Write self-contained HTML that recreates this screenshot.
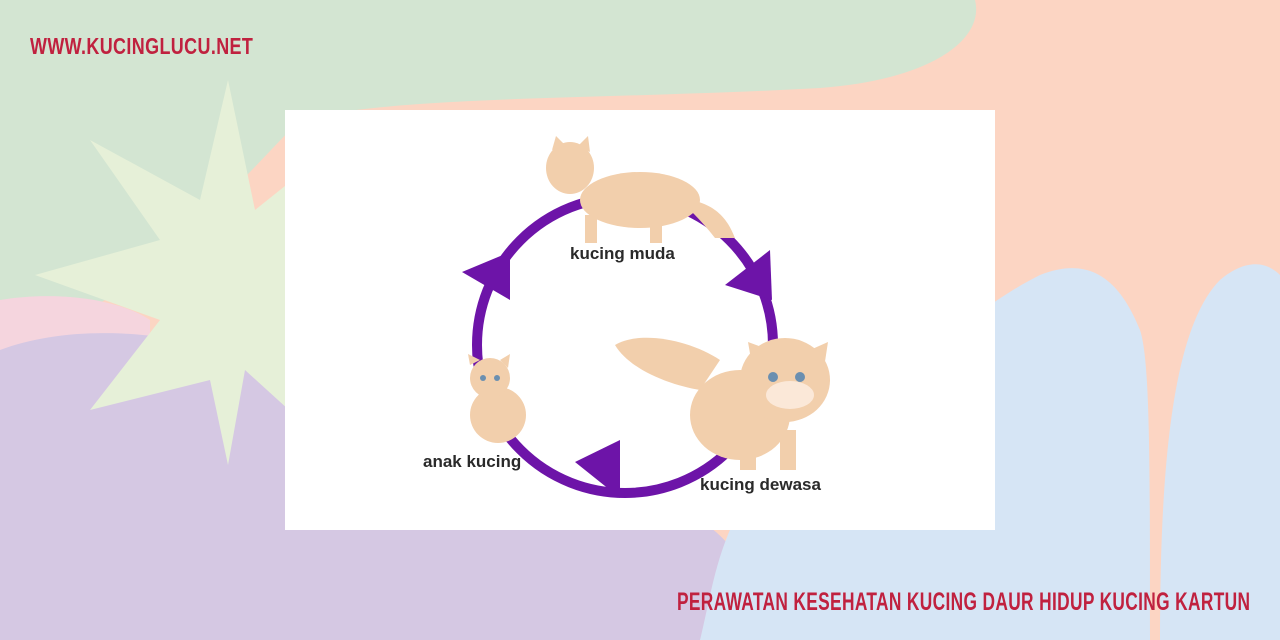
<!DOCTYPE html>
<html><head><meta charset="utf-8"><style>
html,body{margin:0;padding:0}
body{width:1280px;height:640px;overflow:hidden;position:relative;background:#fcd5c3;font-family:"Liberation Sans",sans-serif}
svg{position:absolute;left:0;top:0}
.t{position:absolute;font-family:"Liberation Sans",sans-serif;font-weight:bold;color:#c0213f;transform-origin:left top;letter-spacing:0.5px;white-space:nowrap}
</style></head><body>
<svg width="1280" height="640" viewBox="0 0 1280 640">
<rect width="1280" height="640" fill="#fcd5c3"/>
<path d="M0 0 H975 C985 40 930 80 820 88 C600 100 400 95 300 120 C260 160 200 230 120 290 C60 330 20 350 0 360 Z" fill="#d3e5d2"/>
<path d="M0 300 C60 290 120 300 150 320 L150 640 L0 640 Z" fill="#f5d5de"/>
<path d="M0 350 C80 320 200 330 300 380 C450 450 600 470 700 520 C760 560 760 610 720 640 L0 640 Z" fill="#d5c8e3"/>
<path d="M700 640 C720 560 720 470 880 380 C960 330 990 300 1040 275 C1090 255 1120 280 1140 330 C1150 360 1150 460 1150 640 Z" fill="#d6e5f5"/>
<path d="M1160 640 C1160 480 1170 330 1220 280 C1250 255 1270 265 1280 275 L1280 640 Z" fill="#d6e5f5"/>
<path d="M228 80 L255 210 L330 150 L290 250 L420 275 L290 330 L300 420 L245 370 L228 465 L210 380 L90 410 L160 320 L35 275 L160 240 L90 140 L200 200 Z" fill="#e6f0d8"/>
<rect x="285" y="110" width="710" height="420" fill="#ffffff"/>
<circle cx="625" cy="345" r="148" fill="none" stroke="#6d14a8" stroke-width="10"/>
<polygon points="462,272 510,252 510,300" fill="#6d14a8"/>
<polygon points="725,285 770,250 772,300" fill="#6d14a8"/>
<polygon points="575,462 620,440 620,498" fill="#6d14a8"/>
<ellipse cx="640" cy="200" rx="60" ry="28" fill="#f2cfac"/>
<ellipse cx="570" cy="168" rx="24" ry="26" fill="#f2cfac"/>
<polygon points="552,150 556,136 566,146" fill="#f2cfac"/>
<polygon points="578,146 588,136 590,152" fill="#f2cfac"/>
<path d="M690 200 C720 205 730 225 735 238 L715 238 C705 225 695 215 690 210Z" fill="#f2cfac"/>
<rect x="585" y="215" width="12" height="28" fill="#f2cfac"/>
<rect x="650" y="215" width="12" height="28" fill="#f2cfac"/>
<path d="M615 345 C640 330 690 340 720 360 L700 390 C670 385 630 370 615 345Z" fill="#f2cfac"/>
<ellipse cx="740" cy="415" rx="50" ry="45" fill="#f2cfac"/>
<ellipse cx="785" cy="380" rx="45" ry="42" fill="#f2cfac"/>
<polygon points="748,342 752,365 770,350" fill="#f2cfac"/>
<polygon points="810,350 828,342 824,368" fill="#f2cfac"/>
<ellipse cx="790" cy="395" rx="24" ry="14" fill="#fbe8d8"/>
<circle cx="773" cy="377" r="5" fill="#6b8fb0"/><circle cx="800" cy="377" r="5" fill="#6b8fb0"/>
<rect x="740" y="440" width="16" height="30" fill="#f2cfac"/><rect x="780" y="430" width="16" height="40" fill="#f2cfac"/>
<ellipse cx="498" cy="415" rx="28" ry="28" fill="#f2cfac"/>
<ellipse cx="490" cy="378" rx="20" ry="20" fill="#f2cfac"/>
<polygon points="470,365 468,354 480,360" fill="#f2cfac"/>
<polygon points="500,360 510,354 508,368" fill="#f2cfac"/>
<circle cx="483" cy="378" r="3" fill="#6b8fb0"/><circle cx="497" cy="378" r="3" fill="#6b8fb0"/>
<text x="570" y="259" font-family="Liberation Sans" font-size="17" font-weight="bold" fill="#2a2a2a">kucing muda</text>
<text x="423" y="467" font-family="Liberation Sans" font-size="17" font-weight="bold" fill="#2a2a2a">anak kucing</text>
<text x="700" y="490" font-family="Liberation Sans" font-size="17" font-weight="bold" fill="#2a2a2a">kucing dewasa</text>
</svg>
<div class="t" style="left:30px;top:33px;font-size:23px;transform:scaleX(0.78)">WWW.KUCINGLUCU.NET</div>
<div class="t" style="left:677px;top:588px;font-size:25px;transform:scaleX(0.693)">PERAWATAN KESEHATAN KUCING DAUR HIDUP KUCING KARTUN</div>
</body></html>
